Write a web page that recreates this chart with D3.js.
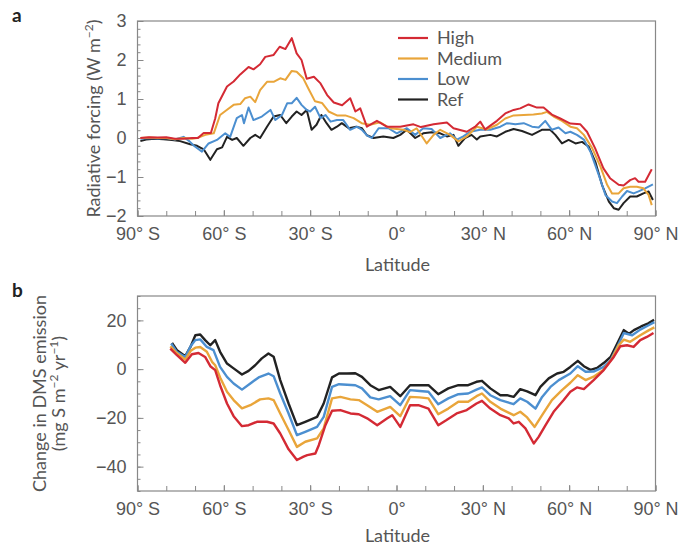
<!DOCTYPE html>
<html>
<head>
<meta charset="utf-8">
<script src="https://cdn.jsdelivr.net/npm/d3@7"></script>
<style>
  body { margin: 0; background: #fff; }
  svg { display: block; font-family: "Lato", "Open Sans", sans-serif; }
  .tick text { fill: #555; font-size: 18px; }
  .label { fill: #555; font-size: 18px; }
</style>
</head>
<body>
<script>
const width = 692;
const height = 547;

// scenario names + colours
const series = ["Ref", "Low", "Medium", "High"];
const colors = { High: "#d42a34", Medium: "#e9a53a", Low: "#4c8fd0", Ref: "#222222" };
const legendOrder = ["High", "Medium", "Low", "Ref"];

const latTicks = [-90, -60, -30, 0, 30, 60, 90];
const latLabels = ["90° S", "60° S", "30° S", "0°", "30° N", "60° N", "90° N"];

// panel a: radiative forcing (W m-2) vs latitude
const rfHigh = [[-89,0.0],[-86,0.02],[-83,0.01],[-80,0.02],[-77,-0.02],[-74,-0.02],[-71,0.0],[-69,0.0],[-67,0.13],[-64.5,0.13],[-63,0.5],[-61.9,0.89],[-58.9,1.32],[-56.6,1.45],[-54.3,1.63],[-51.4,1.82],[-49.7,1.76],[-47.4,1.89],[-45.6,2.08],[-42.7,2.13],[-40.6,2.34],[-38.6,2.28],[-36.4,2.56],[-34.7,2.17],[-33.0,2.0],[-31.2,1.52],[-28.7,1.57],[-26.4,1.40],[-24.1,1.10],[-21.8,0.91],[-18.9,0.84],[-16.1,1.02],[-14.3,0.68],[-12.6,0.76],[-10.3,0.29],[-6.8,0.44],[-3.4,0.29],[1.3,0.29],[5.9,0.35],[8.5,0.28],[12.9,0.35],[17.5,0.4],[19.8,0.25],[24.4,0.16],[27.5,0.3],[29.1,0.42],[30.8,0.22],[34.9,0.44],[37.8,0.63],[40.7,0.72],[43.0,0.76],[45.9,0.86],[48.8,0.78],[51.1,0.78],[54.0,0.6],[56.9,0.5],[60.4,0.37],[63.9,0.35],[66.2,0.16],[69.0,-0.26],[71.9,-0.78],[74.2,-1.03],[77.2,-1.2],[78.9,-1.22],[81.2,-1.08],[82.9,-1.03],[84.1,-1.12],[86.4,-1.12],[88.7,-0.8]];
const rfMedium = [[-89,0.0],[-86,0.01],[-83,0.0],[-80,0.0],[-77,-0.03],[-74,0.0],[-71,-0.02],[-69.3,0.0],[-66.4,0.08],[-63.5,0.12],[-61.3,0.59],[-59,0.72],[-56.6,0.85],[-54.3,0.87],[-52.6,1.02],[-50.8,1.06],[-49.1,0.92],[-47.4,1.23],[-45.0,1.44],[-42.7,1.44],[-40.4,1.53],[-38.6,1.49],[-36.4,1.72],[-34.7,1.70],[-32.4,1.53],[-30.5,1.25],[-28.3,0.94],[-25.9,0.9],[-23.6,0.68],[-20.7,0.58],[-17.8,0.58],[-14.9,0.51],[-12.1,0.38],[-9.2,0.34],[-5.7,0.4],[-2.2,0.25],[2.4,0.21],[4.7,0.15],[7.0,0.25],[10.5,-0.14],[12.9,0.08],[15.2,0.21],[18.6,0.08],[21.5,-0.09],[24.4,0.04],[27.9,0.29],[31.4,0.22],[34.9,0.34],[37.8,0.5],[40.7,0.58],[44.2,0.59],[47.6,0.6],[50.5,0.63],[52.3,0.67],[54.6,0.55],[57.5,0.44],[60.4,0.29],[62.7,0.25],[65.1,0.08],[68.0,-0.26],[70.9,-0.74],[73.2,-1.2],[74.9,-1.42],[77.2,-1.42],[78.9,-1.29],[81.2,-1.25],[83.5,-1.25],[85.8,-1.29],[87.6,-1.46],[88.7,-1.72]];
const rfLow = [[-89,-0.02],[-86,0.0],[-83,-0.01],[-80,0.0],[-77,-0.04],[-74,0.03],[-72,-0.08],[-70.4,-0.2],[-67.6,-0.35],[-65.3,-0.14],[-62.4,-0.05],[-59.5,0.12],[-57.8,0.03],[-55.5,0.51],[-53.7,0.59],[-53.0,0.38],[-51.4,0.78],[-49.7,0.46],[-46.8,0.55],[-43.8,0.72],[-42.1,0.46],[-39.8,0.59],[-38.0,0.89],[-36.4,0.89],[-34.7,1.03],[-33,0.85],[-31.2,0.72],[-30,0.68],[-28.3,0.8],[-26.4,0.51],[-24.7,0.59],[-22.9,0.42],[-20.7,0.46],[-18.5,0.46],[-16.1,0.21],[-13.7,0.29],[-12,0.21],[-10.3,0.07],[-8.6,0.0],[-6.2,0.25],[-2.8,0.25],[0.1,0.12],[3.6,0.25],[6.5,0.08],[9.3,0.25],[12.2,0.23],[15.2,0.0],[18.6,0.12],[21.0,-0.04],[23.2,0.04],[25.6,0.16],[29.1,0.21],[32.6,0.21],[36.1,0.29],[38.4,0.38],[41.3,0.35],[44.2,0.38],[47.1,0.29],[49.4,0.27],[51.7,0.44],[54.0,0.21],[56.3,0.27],[58.7,0.12],[60.4,0.16],[62.7,0.08],[65.1,-0.04],[67.4,-0.35],[70.3,-0.95],[72.6,-1.46],[74.9,-1.63],[76.6,-1.67],[78.4,-1.5],[80.1,-1.36],[82.4,-1.42],[84.1,-1.37],[86.4,-1.29],[89.1,-1.19]];
const rfRef = [[-89,-0.08],[-87,-0.04],[-84,-0.02],[-81,-0.03],[-78,-0.05],[-75.2,-0.08],[-71.7,-0.16],[-69.3,-0.2],[-67.0,-0.29],[-64.7,-0.56],[-62.4,-0.29],[-60.6,-0.24],[-58.9,0.03],[-57.1,-0.05],[-55.5,0.0],[-53.2,-0.2],[-50.8,0.0],[-49.1,0.08],[-47.4,0.0],[-45.0,0.29],[-42.7,0.55],[-40.4,0.59],[-38.3,0.38],[-36.4,0.55],[-34.7,0.68],[-33,0.59],[-31.2,0.72],[-29.5,0.21],[-27.8,0.34],[-26.1,0.59],[-24.3,0.38],[-22.6,0.21],[-20.7,0.29],[-19.0,0.38],[-16.6,0.25],[-14,0.29],[-12,0.25],[-10.3,0.07],[-8.0,0.0],[-4.6,0.04],[-1.1,0.0],[1.3,0.08],[3.6,0.21],[6.5,0.0],[9.3,0.12],[12.2,0.15],[15.2,0.12],[17.5,0.04],[19.8,0.08],[21.5,-0.2],[23.8,0.0],[26.1,0.08],[27.9,-0.04],[29.1,0.04],[32.6,0.08],[34.9,0.04],[37.8,0.16],[40.7,0.23],[43.6,0.18],[47.1,0.08],[50.5,0.21],[53.4,0.21],[55.2,0.08],[57.5,-0.14],[59.8,-0.05],[62.2,-0.14],[64.5,-0.1],[66.8,-0.22],[69.1,-0.61],[71.4,-1.2],[73.8,-1.63],[75.5,-1.8],[77.2,-1.84],[78.9,-1.67],[81.2,-1.5],[83.5,-1.5],[85.8,-1.42],[87.6,-1.37],[89.1,-1.59]];

// panel b: change in DMS emission (mg S m-2 yr-1)
const dmsHigh = [[-78.6,8.4],[-76.3,5.7],[-73.4,2.6],[-71.1,6.1],[-68.8,6.6],[-66.5,5.0],[-64.7,1.2],[-63.0,-0.4],[-61.3,-6.6],[-58.9,-14.1],[-56.6,-19.3],[-53.7,-23.4],[-51.4,-23.0],[-48.5,-21.6],[-45.0,-21.6],[-42.7,-22.3],[-40.4,-26.4],[-37.5,-32.9],[-34.6,-37.3],[-32.3,-35.9],[-31.0,-35.3],[-28.2,-34.6],[-27.0,-31.2],[-24.7,-23.0],[-22.4,-17.1],[-19.5,-16.8],[-16.0,-18.2],[-13.1,-18.5],[-10.2,-20.2],[-6.7,-23.0],[-3.2,-20.2],[-1.5,-18.9],[1.3,-23.7],[4.7,-14.8],[7.6,-14.8],[11.1,-16.2],[14.5,-23.0],[17.4,-20.9],[20.9,-18.2],[24.4,-16.8],[27.8,-14.1],[29.7,-13.0],[32.6,-16.2],[36.1,-18.9],[39.0,-20.2],[40.7,-22.3],[42.5,-21.6],[44.8,-24.3],[47.7,-30.5],[49.4,-27.8],[51.8,-23.0],[54.6,-17.5],[58.1,-12.7],[60.4,-9.3],[62.7,-7.5],[65.1,-8.2],[68.5,-4.5],[72.0,-0.4],[75.5,5.0],[77.8,9.4],[80.1,9.8],[82.4,9.1],[84.7,11.9],[87.0,13.2],[89.3,14.8]];
const dmsMedium = [[-78.6,9.3],[-76.3,6.5],[-73.4,3.9],[-71.5,7.5],[-69.9,8.8],[-68.2,9.1],[-65.9,7.1],[-64.1,3.0],[-63.0,1.6],[-61.3,-3.4],[-58.9,-9.3],[-56.6,-12.7],[-53.7,-16.1],[-50.8,-14.8],[-47.4,-12.4],[-44.5,-12.0],[-42.7,-12.7],[-40.4,-18.2],[-37.5,-25.0],[-34.6,-31.9],[-31.7,-29.8],[-27.6,-28.4],[-25.3,-24.3],[-22.4,-12.0],[-19.5,-11.4],[-16.0,-12.4],[-13.1,-12.7],[-10.2,-14.8],[-6.7,-17.5],[-2.2,-15.5],[1.3,-19.3],[4.7,-11.4],[8.0,-11.6],[11.1,-12.0],[14.5,-18.5],[18.0,-16.2],[21.5,-13.4],[24.9,-13.4],[27.8,-11.1],[29.7,-10.0],[32.6,-13.4],[36.1,-16.2],[40.7,-18.9],[43.0,-17.5],[45.4,-19.8],[48.0,-23.7],[50.6,-18.9],[54.0,-12.7],[57.5,-8.6],[60.4,-5.6],[63.0,-2.5],[65.7,-4.5],[68.5,-3.1],[72.0,-0.2],[74.9,4.3],[77.2,9.8],[79.0,12.1],[81.2,11.2],[84.7,13.9],[87.6,15.9],[89.6,17.1]];
const dmsLow = [[-78.3,10.5],[-76.3,7.0],[-73.4,5.0],[-71.5,9.5],[-69.9,11.9],[-68.2,12.2],[-65.9,9.1],[-63.6,7.8],[-61.3,0.9],[-58.9,-3.2],[-56.6,-5.9],[-53.7,-8.4],[-50.8,-5.9],[-47.9,-3.4],[-44.5,-1.8],[-42.7,-2.9],[-40.4,-10.0],[-37.5,-18.2],[-34.6,-27.1],[-31.7,-25.7],[-27.6,-23.7],[-25.3,-19.6],[-22.4,-7.3],[-20.0,-6.2],[-14.3,-6.6],[-12.0,-7.9],[-9.1,-11.6],[-6.2,-12.4],[-2.2,-11.1],[1.3,-14.8],[4.7,-8.6],[8.0,-9.0],[11.1,-9.3],[14.5,-14.4],[18.0,-12.0],[21.5,-10.3],[24.9,-10.0],[27.8,-8.4],[29.7,-7.5],[32.6,-10.7],[36.1,-12.7],[40.7,-14.4],[43.0,-12.0],[45.4,-13.4],[48.3,-16.2],[50.6,-11.4],[53.5,-7.3],[56.4,-4.5],[60.4,-1.8],[63.0,1.2],[65.7,-1.1],[68.5,-1.0],[72.0,0.9],[74.4,3.7],[76.7,9.1],[79.0,14.8],[81.9,13.9],[84.7,16.2],[87.6,18.0],[89.6,19.3]];
const dmsRef = [[-78.0,10.8],[-76.3,7.8],[-73.4,5.3],[-71.6,9.1],[-69.9,13.9],[-68.2,14.2],[-66.5,11.9],[-64.7,9.8],[-63.0,11.9],[-61.3,7.1],[-58.9,2.3],[-56.6,0.3],[-53.7,-2.2],[-51.4,-0.7],[-49.1,1.6],[-46.8,4.4],[-44.5,6.4],[-42.7,5.1],[-40.4,-4.5],[-37.5,-14.1],[-34.6,-23.0],[-31.7,-21.6],[-27.6,-19.6],[-25.3,-14.1],[-22.4,-3.4],[-20.0,-1.8],[-17.2,-1.8],[-14.3,-1.7],[-12.0,-3.2],[-9.1,-6.6],[-6.2,-8.6],[-2.2,-7.3],[1.3,-11.1],[4.7,-6.6],[8.2,-6.6],[11.1,-6.6],[14.5,-10.3],[18.0,-7.9],[21.5,-6.6],[24.9,-6.6],[27.8,-5.2],[29.7,-4.8],[32.6,-7.9],[36.1,-10.7],[38.4,-10.7],[40.7,-11.4],[43.0,-8.2],[45.4,-9.1],[48.3,-10.7],[50.0,-7.3],[52.9,-3.8],[55.8,-1.8],[58.1,-1.1],[60.4,0.9],[63.0,3.4],[65.1,1.2],[67.4,-0.3],[69.7,0.5],[72.1,2.6],[74.4,5.0],[76.7,10.5],[79.0,16.0],[80.8,14.5],[82.5,16.0],[85.0,17.5],[87.5,18.8],[89.5,20.2]];

const rfData = { High: rfHigh, Medium: rfMedium, Low: rfLow, Ref: rfRef };
const dmsData = { High: dmsHigh, Medium: dmsMedium, Low: dmsLow, Ref: dmsRef };

const svg = d3.select("body").append("svg")
  .attr("width", width)
  .attr("height", height);

const left = 137.5, right = 655.5;
const x = d3.scaleLinear().domain([-90, 90]).range([left, right]);

function panel(opts) {
  const y = d3.scaleLinear().domain(opts.yDomain).range([opts.bottom, opts.top]);
  const g = svg.append("g");

  // minor ticks first, then labelled major ticks
  g.append("g")
    .attr("transform", "translate(0," + opts.bottom + ")")
    .call(d3.axisBottom(x).tickValues(d3.range(-90, 91, 10)).tickSize(-5).tickFormat(""))
    .call(a => a.select(".domain").remove());
  g.append("g")
    .attr("transform", "translate(0," + opts.bottom + ")")
    .call(d3.axisBottom(x).tickValues(latTicks).tickSize(-6).tickPadding(11)
      .tickFormat((d, i) => latLabels[i]))
    .call(a => a.select(".domain").remove());

  g.append("g")
    .attr("transform", "translate(" + left + ",0)")
    .call(d3.axisLeft(y).tickValues(opts.minor).tickSize(-3).tickFormat(""))
    .call(a => a.select(".domain").remove());
  g.append("g")
    .attr("transform", "translate(" + left + ",0)")
    .call(d3.axisLeft(y).tickValues(opts.major).tickSize(-6).tickPadding(11)
      .tickFormat(d => d < 0 ? "\u2212" + Math.abs(d) : d))
    .call(a => a.select(".domain").remove());

  g.selectAll(".tick line").attr("stroke", "#888");

  const line = d3.line().x(d => x(d[0])).y(d => y(d[1]));
  series.forEach(s => {
    g.append("path")
      .datum(opts.data[s])
      .attr("fill", "none")
      .attr("stroke", colors[s])
      .attr("stroke-width", opts.lw)
      .attr("stroke-linejoin", "round")
      .attr("d", line);
  });

  g.append("rect")
    .attr("x", left).attr("y", opts.top)
    .attr("width", right - left).attr("height", opts.bottom - opts.top)
    .attr("fill", "none").attr("stroke", "#888").attr("stroke-width", 1.2);

  g.append("text")
    .attr("class", "label")
    .attr("x", (left + right) / 2 + 1)
    .attr("y", opts.bottom + opts.latDy)
    .attr("text-anchor", "middle")
    .text("Latitude");

  svg.append("text")
    .attr("x", 12).attr("y", opts.top + 1)
    .attr("font-weight", "bold").attr("font-size", 19).attr("fill", "#222")
    .text(opts.letter);

  return { g, y };
}

const a = panel({
  top: 21, bottom: 216, yDomain: [-2, 3],
  major: d3.range(-2, 4, 1), minor: d3.range(-2, 3.01, 0.2).map(v => +v.toFixed(1)),
  data: rfData, lw: 2, letter: "a", latDy: 55
});

const b = panel({
  top: 296, bottom: 491, yDomain: [-50, 30],
  major: [-40, -20, 0, 20], minor: d3.range(-50, 31, 5),
  data: dmsData, lw: 2.4, letter: "b", latDy: 51
});

// y axis titles
const ta = svg.append("text")
  .attr("class", "label")
  .attr("transform", "translate(100," + (21 + 216) / 2 + ") rotate(-90)")
  .attr("text-anchor", "middle");
ta.append("tspan").text("Radiative forcing (W m");
ta.append("tspan").attr("dy", -7).attr("font-size", 12).text("\u22122");
ta.append("tspan").attr("dy", 7).text(")");

const tb = svg.append("text")
  .attr("class", "label")
  .attr("transform", "translate(46," + (296 + 491) / 2 + ") rotate(-90)")
  .attr("text-anchor", "middle");
tb.append("tspan").attr("x", 0).text("Change in DMS emission");
const tb2 = svg.append("text")
  .attr("class", "label")
  .attr("transform", "translate(65," + (296 + 491) / 2 + ") rotate(-90)")
  .attr("text-anchor", "middle");
tb2.append("tspan").text("(mg S m");
tb2.append("tspan").attr("dy", -7).attr("font-size", 12).text("\u22122");
tb2.append("tspan").attr("dy", 7).text(" yr");
tb2.append("tspan").attr("dy", -7).attr("font-size", 12).text("\u22121");
tb2.append("tspan").attr("dy", 7).text(")");

// legend in panel a
const legend = svg.append("g");
legendOrder.forEach((s, i) => {
  const ly = 38 + i * 20.5;
  legend.append("line")
    .attr("x1", 398).attr("x2", 428).attr("y1", ly).attr("y2", ly)
    .attr("stroke", colors[s]).attr("stroke-width", 2.2);
  legend.append("text")
    .attr("class", "label")
    .attr("x", 437).attr("y", ly)
    .attr("dy", "0.35em")
    .attr("font-size", 17.5)
    .text(s);
});
</script>
</body>
</html>
